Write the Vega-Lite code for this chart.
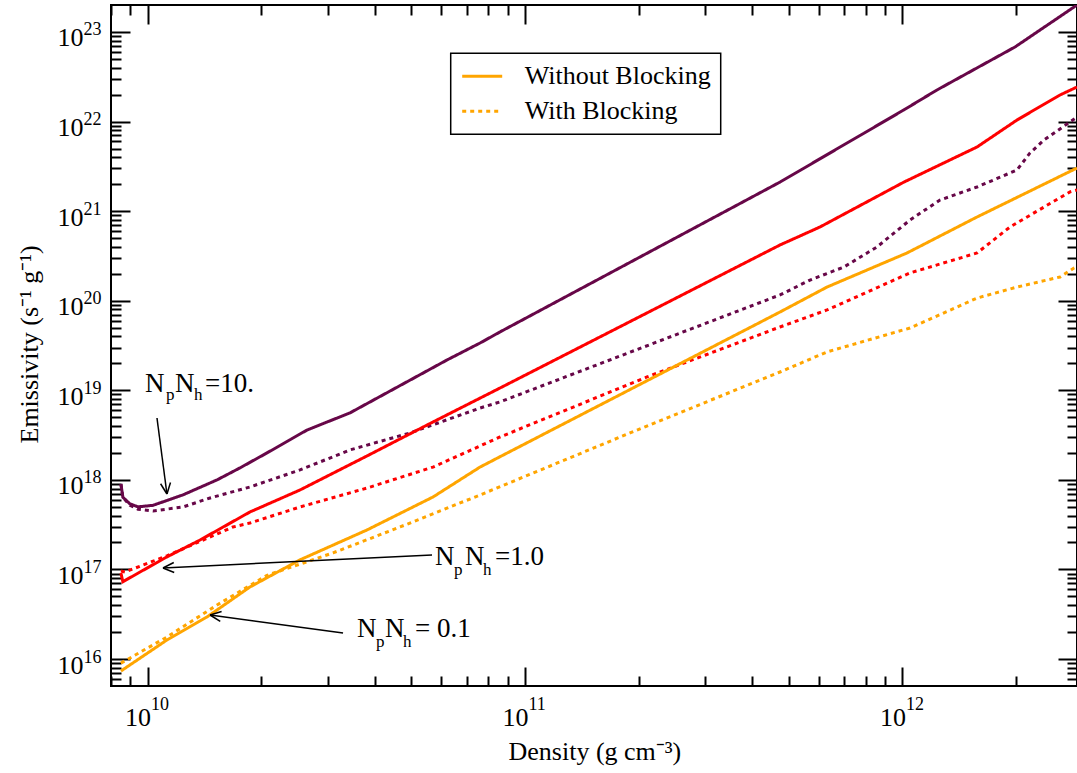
{
  "$schema": "https://vega.github.io/schema/vega-lite/v6.json",
  "width": 966,
  "height": 681,
  "autosize": {"type": "none"},
  "padding": {"left": 111, "top": 5, "right": 0, "bottom": 87},
  "background": "white",
  "config": {
    "view": {"stroke": "black", "strokeWidth": 2},
    "font": "Liberation Serif",
    "axis": {"grid": false, "domain": false, "labelColor": "black", "tickColor": "black", "labelFont": "Liberation Serif", "titleFont": "Liberation Serif", "titleFontWeight": "normal", "titleColor": "black", "labelFlush": false, "labelOverlap": false, "labelBound": false},
    "legend": {"strokeWidth": 1.5}
  },
  "datasets": {
    "curves": [
      {"g": "10.", "b": "Without Blocking", "d": 8.5e9, "e": 9.0e17},
      {"g": "10.", "b": "Without Blocking", "d": 8.6e9, "e": 6.4e17},
      {"g": "10.", "b": "Without Blocking", "d": 8.98e9, "e": 5.4e17},
      {"g": "10.", "b": "Without Blocking", "d": 9.43e9, "e": 5.0e17},
      {"g": "10.", "b": "Without Blocking", "d": 1.034e10, "e": 5.2e17},
      {"g": "10.", "b": "Without Blocking", "d": 1.241e10, "e": 6.8e17},
      {"g": "10.", "b": "Without Blocking", "d": 1.528e10, "e": 1.0e18},
      {"g": "10.", "b": "Without Blocking", "d": 1.757e10, "e": 1.36e18},
      {"g": "10.", "b": "Without Blocking", "d": 2.072e10, "e": 2.0e18},
      {"g": "10.", "b": "Without Blocking", "d": 2.645e10, "e": 3.6e18},
      {"g": "10.", "b": "Without Blocking", "d": 3.439e10, "e": 5.6e18},
      {"g": "10.", "b": "Without Blocking", "d": 6.214e10, "e": 2.18e19},
      {"g": "10.", "b": "Without Blocking", "d": 7.6e10, "e": 3.37e19},
      {"g": "10.", "b": "Without Blocking", "d": 8.584e10, "e": 4.48e19},
      {"g": "10.", "b": "Without Blocking", "d": 4.738e11, "e": 2.11e21},
      {"g": "10.", "b": "Without Blocking", "d": 1.009e12, "e": 1.35e22},
      {"g": "10.", "b": "Without Blocking", "d": 1.234e12, "e": 2.25e22},
      {"g": "10.", "b": "Without Blocking", "d": 1.987e12, "e": 6.8e22},
      {"g": "10.", "b": "Without Blocking", "d": 2.9e12, "e": 2.0e23},

      {"g": "10.", "b": "With Blocking", "d": 8.5e9, "e": 9.0e17},
      {"g": "10.", "b": "With Blocking", "d": 8.6e9, "e": 6.4e17},
      {"g": "10.", "b": "With Blocking", "d": 8.98e9, "e": 5.2e17},
      {"g": "10.", "b": "With Blocking", "d": 9.43e9, "e": 4.7e17},
      {"g": "10.", "b": "With Blocking", "d": 1.034e10, "e": 4.5e17},
      {"g": "10.", "b": "With Blocking", "d": 1.241e10, "e": 4.98e17},
      {"g": "10.", "b": "With Blocking", "d": 1.464e10, "e": 6.28e17},
      {"g": "10.", "b": "With Blocking", "d": 1.867e10, "e": 8.33e17},
      {"g": "10.", "b": "With Blocking", "d": 2.534e10, "e": 1.29e18},
      {"g": "10.", "b": "With Blocking", "d": 3.439e10, "e": 2.16e18},
      {"g": "10.", "b": "With Blocking", "d": 4.958e10, "e": 3.34e18},
      {"g": "10.", "b": "With Blocking", "d": 7.6e10, "e": 6.34e18},
      {"g": "10.", "b": "With Blocking", "d": 8.584e10, "e": 7.42e18},
      {"g": "10.", "b": "With Blocking", "d": 4.738e11, "e": 1.16e20},
      {"g": "10.", "b": "With Blocking", "d": 5.689e11, "e": 1.70e20},
      {"g": "10.", "b": "With Blocking", "d": 7.0e11, "e": 2.38e20},
      {"g": "10.", "b": "With Blocking", "d": 8.56e11, "e": 3.98e20},
      {"g": "10.", "b": "With Blocking", "d": 1.047e12, "e": 7.96e20},
      {"g": "10.", "b": "With Blocking", "d": 1.257e12, "e": 1.33e21},
      {"g": "10.", "b": "With Blocking", "d": 1.576e12, "e": 1.86e21},
      {"g": "10.", "b": "With Blocking", "d": 2.011e12, "e": 2.88e21},
      {"g": "10.", "b": "With Blocking", "d": 2.177e12, "e": 4.46e21},
      {"g": "10.", "b": "With Blocking", "d": 2.371e12, "e": 6.22e21},
      {"g": "10.", "b": "With Blocking", "d": 2.779e12, "e": 9.89e21},
      {"g": "10.", "b": "With Blocking", "d": 2.9e12, "e": 1.12e22},

      {"g": "1.0", "b": "Without Blocking", "d": 8.5e9, "e": 9.1e16},
      {"g": "1.0", "b": "Without Blocking", "d": 8.6e9, "e": 7.3e16},
      {"g": "1.0", "b": "Without Blocking", "d": 1.125e10, "e": 1.38e17},
      {"g": "1.0", "b": "Without Blocking", "d": 1.377e10, "e": 2.13e17},
      {"g": "1.0", "b": "Without Blocking", "d": 1.867e10, "e": 4.38e17},
      {"g": "1.0", "b": "Without Blocking", "d": 2.534e10, "e": 7.71e17},
      {"g": "1.0", "b": "Without Blocking", "d": 3.814e10, "e": 1.85e18},
      {"g": "1.0", "b": "Without Blocking", "d": 5.705e10, "e": 4.43e18},
      {"g": "1.0", "b": "Without Blocking", "d": 8.584e10, "e": 1.06e19},
      {"g": "1.0", "b": "Without Blocking", "d": 4.738e11, "e": 4.19e20},
      {"g": "1.0", "b": "Without Blocking", "d": 6.046e11, "e": 6.65e20},
      {"g": "1.0", "b": "Without Blocking", "d": 1.009e12, "e": 2.11e21},
      {"g": "1.0", "b": "Without Blocking", "d": 1.576e12, "e": 5.2e21},
      {"g": "1.0", "b": "Without Blocking", "d": 2.011e12, "e": 1.04e22},
      {"g": "1.0", "b": "Without Blocking", "d": 2.615e12, "e": 1.98e22},
      {"g": "1.0", "b": "Without Blocking", "d": 2.9e12, "e": 2.43e22},

      {"g": "1.0", "b": "With Blocking", "d": 8.5e9, "e": 9.6e16},
      {"g": "1.0", "b": "With Blocking", "d": 8.71e9, "e": 9.36e16},
      {"g": "1.0", "b": "With Blocking", "d": 1.125e10, "e": 1.42e17},
      {"g": "1.0", "b": "With Blocking", "d": 1.684e10, "e": 2.98e17},
      {"g": "1.0", "b": "With Blocking", "d": 1.867e10, "e": 3.30e17},
      {"g": "1.0", "b": "With Blocking", "d": 2.534e10, "e": 4.98e17},
      {"g": "1.0", "b": "With Blocking", "d": 3.814e10, "e": 8.11e17},
      {"g": "1.0", "b": "With Blocking", "d": 5.705e10, "e": 1.39e18},
      {"g": "1.0", "b": "With Blocking", "d": 8.584e10, "e": 3.01e18},
      {"g": "1.0", "b": "With Blocking", "d": 2.105e11, "e": 1.41e19},
      {"g": "1.0", "b": "With Blocking", "d": 4.738e11, "e": 5.09e19},
      {"g": "1.0", "b": "With Blocking", "d": 6.31e11, "e": 7.88e19},
      {"g": "1.0", "b": "With Blocking", "d": 1.047e12, "e": 2.04e20},
      {"g": "1.0", "b": "With Blocking", "d": 1.576e12, "e": 3.41e20},
      {"g": "1.0", "b": "With Blocking", "d": 1.927e12, "e": 6.65e20},
      {"g": "1.0", "b": "With Blocking", "d": 2.371e12, "e": 1.11e21},
      {"g": "1.0", "b": "With Blocking", "d": 2.779e12, "e": 1.64e21},
      {"g": "1.0", "b": "With Blocking", "d": 2.9e12, "e": 1.72e21},

      {"g": "0.1", "b": "Without Blocking", "d": 8.5e9, "e": 7.35e15},
      {"g": "0.1", "b": "Without Blocking", "d": 1.125e10, "e": 1.63e16},
      {"g": "0.1", "b": "Without Blocking", "d": 1.437e10, "e": 2.95e16},
      {"g": "0.1", "b": "Without Blocking", "d": 1.867e10, "e": 6.37e16},
      {"g": "0.1", "b": "Without Blocking", "d": 2.534e10, "e": 1.28e17},
      {"g": "0.1", "b": "Without Blocking", "d": 3.814e10, "e": 2.76e17},
      {"g": "0.1", "b": "Without Blocking", "d": 5.705e10, "e": 6.44e17},
      {"g": "0.1", "b": "Without Blocking", "d": 7.6e10, "e": 1.39e18},
      {"g": "0.1", "b": "Without Blocking", "d": 4.738e11, "e": 7.48e19},
      {"g": "0.1", "b": "Without Blocking", "d": 6.31e11, "e": 1.42e20},
      {"g": "0.1", "b": "Without Blocking", "d": 1.028e12, "e": 3.41e20},
      {"g": "0.1", "b": "Without Blocking", "d": 1.576e12, "e": 8.6e20},
      {"g": "0.1", "b": "Without Blocking", "d": 2.9e12, "e": 3.03e21},

      {"g": "0.1", "b": "With Blocking", "d": 8.5e9, "e": 9.0e15},
      {"g": "0.1", "b": "With Blocking", "d": 1.125e10, "e": 1.76e16},
      {"g": "0.1", "b": "With Blocking", "d": 1.528e10, "e": 4.01e16},
      {"g": "0.1", "b": "With Blocking", "d": 2.072e10, "e": 8.6e16},
      {"g": "0.1", "b": "With Blocking", "d": 3.099e10, "e": 1.53e17},
      {"g": "0.1", "b": "With Blocking", "d": 4.665e10, "e": 2.98e17},
      {"g": "0.1", "b": "With Blocking", "d": 7.6e10, "e": 6.78e17},
      {"g": "0.1", "b": "With Blocking", "d": 1.897e11, "e": 3.34e18},
      {"g": "0.1", "b": "With Blocking", "d": 4.738e11, "e": 1.60e19},
      {"g": "0.1", "b": "With Blocking", "d": 6.31e11, "e": 2.68e19},
      {"g": "0.1", "b": "With Blocking", "d": 1.047e12, "e": 4.96e19},
      {"g": "0.1", "b": "With Blocking", "d": 1.576e12, "e": 1.07e20},
      {"g": "0.1", "b": "With Blocking", "d": 2.011e12, "e": 1.42e20},
      {"g": "0.1", "b": "With Blocking", "d": 2.615e12, "e": 1.84e20},
      {"g": "0.1", "b": "With Blocking", "d": 2.847e12, "e": 2.32e20},
      {"g": "0.1", "b": "With Blocking", "d": 2.9e12, "e": 2.4e20}
    ],
    "arrows": [
      {"x": 1.059e10, "y": 4.907e18, "x2": 1.1255e10, "y2": 6.957e17},
      {"x": 1.1255e10, "y": 6.957e17, "x2": 1.0826e10, "y2": 9.053e17},
      {"x": 1.1255e10, "y": 6.957e17, "x2": 1.15e10, "y2": 9.361e17},
      {"x": 5.67e10, "y": 1.45e17, "x2": 1.0986e10, "y2": 1.0381e17},
      {"x": 1.0986e10, "y": 1.0381e17, "x2": 1.1731e10, "y2": 1.1966e17},
      {"x": 1.0986e10, "y": 1.0381e17, "x2": 1.1765e10, "y2": 9.256e16},
      {"x": 3.295e10, "y": 1.953e16, "x2": 1.464e10, "y2": 3.101e16},
      {"x": 1.464e10, "y": 3.101e16, "x2": 1.5707e10, "y2": 3.394e16},
      {"x": 1.464e10, "y": 3.101e16, "x2": 1.5579e10, "y2": 2.631e16}
    ],
    "bigtext": [
      {"x": 9.844e9, "y": 9.572e18, "t": "N"},
      {"x": 1.182e10, "y": 9.572e18, "t": "N"},
      {"x": 1.4195e10, "y": 9.572e18, "t": "=10."},
      {"x": 5.775e10, "y": 1.1213e17, "t": "N"},
      {"x": 6.934e10, "y": 1.1213e17, "t": "N"},
      {"x": 8.326e10, "y": 1.1213e17, "t": "=1.0"},
      {"x": 3.588e10, "y": 1.762e16, "t": "N"},
      {"x": 4.256e10, "y": 1.762e16, "t": "N"},
      {"x": 5.111e10, "y": 1.762e16, "t": "= 0.1"}
    ],
    "subtext": [
      {"x": 1.1188e10, "y": 7.792e18, "t": "p"},
      {"x": 1.3276e10, "y": 7.792e18, "t": "h"},
      {"x": 6.484e10, "y": 8.677e16, "t": "p"},
      {"x": 7.74e10, "y": 8.677e16, "t": "h"},
      {"x": 4.029e10, "y": 1.362e16, "t": "p"},
      {"x": 4.751e10, "y": 1.362e16, "t": "h"}
    ]
  },
  "layer": [
    {
      "data": {"name": "curves"},
      "mark": {"type": "line", "strokeWidth": 3, "clip": true},
      "encoding": {
        "x": {"field": "d", "type": "quantitative", "scale": {"type": "log", "domain": [8e9, 2.9e12], "nice": false},
          "axis": {"orient": "bottom", "values": [1e10, 1e11, 1e12], "labelExpr": "'10'", "ticks": false, "tickSize": 0, "labelAlign": "right", "labelBaseline": "alphabetic", "labelOffset": 3, "labelPadding": 39, "labelFontSize": 26,
            "title": "Density (g cm⁻³)", "titleFontSize": 26, "titleX": 397, "titleY": 73, "titleAlign": "left", "titleBaseline": "alphabetic", "titleAngle": 0}},
        "y": {"field": "e", "type": "quantitative", "scale": {"type": "log", "domain": [5e15, 2e23], "nice": false},
          "axis": {"orient": "left", "values": [1e16, 1e17, 1e18, 1e19, 1e20, 1e21, 1e22, 1e23], "labelExpr": "'10'", "ticks": false, "tickSize": 0, "labelAlign": "right", "labelBaseline": "alphabetic", "labelOffset": 14, "labelPadding": 28, "labelFontSize": 26,
            "title": "Emissivity (s⁻¹ g⁻¹)", "titleFontSize": 26, "titleX": -74, "titleY": 438, "titleAlign": "left", "titleBaseline": "alphabetic", "titleAngle": 270}},
        "color": {"field": "g", "type": "nominal", "scale": {"domain": ["0.1", "1.0", "10."], "range": ["#FFA500", "#FF0000", "#670748"]}, "legend": null},
        "strokeDash": {"field": "b", "type": "nominal", "scale": {"domain": ["Without Blocking", "With Blocking"], "range": [[1, 0], [4, 4]]},
          "legend": {"title": null, "orient": "none", "legendX": 339.7, "legendY": 48.3, "symbolType": "stroke", "symbolSize": 1600, "symbolStrokeWidth": 3, "symbolStrokeColor": "#FFA500", "labelFontSize": 26, "labelFont": "Liberation Serif", "labelColor": "black", "labelOffset": 21, "labelLimit": 0, "padding": 10, "clipHeight": 26, "rowPadding": 9, "strokeColor": "black", "fillColor": "white"}}
      }
    },
    {
      "data": {"name": "arrows"},
      "mark": {"type": "rule", "strokeWidth": 1.5, "color": "black"},
      "encoding": {
        "x": {"field": "x", "type": "quantitative", "scale": {"type": "log", "domain": [8e9, 2.9e12], "nice": false},
          "axis": {"orient": "bottom", "values": [1e10, 1e11, 1e12], "labelExpr": "round(log(datum.value)/LN10) + ''", "ticks": false, "tickSize": 0, "labelAlign": "left", "labelBaseline": "alphabetic", "labelOffset": 3, "labelPadding": 23, "labelFontSize": 18, "title": null}},
        "y": {"field": "y", "type": "quantitative", "scale": {"type": "log", "domain": [5e15, 2e23], "nice": false},
          "axis": {"orient": "left", "values": [1e16, 1e17, 1e18, 1e19, 1e20, 1e21, 1e22, 1e23], "labelExpr": "round(log(datum.value)/LN10) + ''", "ticks": false, "tickSize": 0, "labelAlign": "left", "labelBaseline": "alphabetic", "labelOffset": 3, "labelPadding": 28, "labelFontSize": 18, "title": null}},
        "x2": {"field": "x2"},
        "y2": {"field": "y2"}
      }
    },
    {
      "data": {"name": "bigtext"},
      "mark": {"type": "text", "fontSize": 27, "font": "Liberation Serif", "align": "left", "baseline": "alphabetic", "color": "black"},
      "encoding": {
        "x": {"field": "x", "type": "quantitative", "scale": {"type": "log", "domain": [8e9, 2.9e12], "nice": false},
          "axis": {"orient": "top", "values": [8e9, 9e9, 1e10, 2e10, 3e10, 4e10, 5e10, 6e10, 7e10, 8e10, 9e10, 1e11, 2e11, 3e11, 4e11, 5e11, 6e11, 7e11, 8e11, 9e11, 1e12, 2e12], "labels": false, "tickSize": {"condition": {"test": "abs(log(datum.value)/LN10 - round(log(datum.value)/LN10)) < 0.001", "value": -19}, "value": -10}, "tickWidth": 2, "title": null}},
        "y": {"field": "y", "type": "quantitative", "scale": {"type": "log", "domain": [5e15, 2e23], "nice": false},
          "axis": {"orient": "right", "values": [6e15, 7e15, 8e15, 9e15, 1e16, 2e16, 3e16, 4e16, 5e16, 6e16, 7e16, 8e16, 9e16, 1e17, 2e17, 3e17, 4e17, 5e17, 6e17, 7e17, 8e17, 9e17, 1e18, 2e18, 3e18, 4e18, 5e18, 6e18, 7e18, 8e18, 9e18, 1e19, 2e19, 3e19, 4e19, 5e19, 6e19, 7e19, 8e19, 9e19, 1e20, 2e20, 3e20, 4e20, 5e20, 6e20, 7e20, 8e20, 9e20, 1e21, 2e21, 3e21, 4e21, 5e21, 6e21, 7e21, 8e21, 9e21, 1e22, 2e22, 3e22, 4e22, 5e22, 6e22, 7e22, 8e22, 9e22, 1e23], "labels": false, "tickSize": {"condition": {"test": "abs(log(datum.value)/LN10 - round(log(datum.value)/LN10)) < 0.001", "value": -19}, "value": -10}, "tickWidth": 2, "title": null}},
        "text": {"field": "t", "type": "nominal"}
      }
    },
    {
      "data": {"name": "subtext"},
      "mark": {"type": "text", "fontSize": 17, "font": "Liberation Serif", "align": "left", "baseline": "alphabetic", "color": "black"},
      "encoding": {
        "x": {"field": "x", "type": "quantitative", "scale": {"type": "log", "domain": [8e9, 2.9e12], "nice": false},
          "axis": {"orient": "bottom", "values": [8e9, 9e9, 1e10, 2e10, 3e10, 4e10, 5e10, 6e10, 7e10, 8e10, 9e10, 1e11, 2e11, 3e11, 4e11, 5e11, 6e11, 7e11, 8e11, 9e11, 1e12, 2e12], "labels": false, "tickSize": {"condition": {"test": "abs(log(datum.value)/LN10 - round(log(datum.value)/LN10)) < 0.001", "value": -19}, "value": -10}, "tickWidth": 2, "title": null}},
        "y": {"field": "y", "type": "quantitative", "scale": {"type": "log", "domain": [5e15, 2e23], "nice": false},
          "axis": {"orient": "left", "values": [6e15, 7e15, 8e15, 9e15, 1e16, 2e16, 3e16, 4e16, 5e16, 6e16, 7e16, 8e16, 9e16, 1e17, 2e17, 3e17, 4e17, 5e17, 6e17, 7e17, 8e17, 9e17, 1e18, 2e18, 3e18, 4e18, 5e18, 6e18, 7e18, 8e18, 9e18, 1e19, 2e19, 3e19, 4e19, 5e19, 6e19, 7e19, 8e19, 9e19, 1e20, 2e20, 3e20, 4e20, 5e20, 6e20, 7e20, 8e20, 9e20, 1e21, 2e21, 3e21, 4e21, 5e21, 6e21, 7e21, 8e21, 9e21, 1e22, 2e22, 3e22, 4e22, 5e22, 6e22, 7e22, 8e22, 9e22, 1e23], "labels": false, "tickSize": {"condition": {"test": "abs(log(datum.value)/LN10 - round(log(datum.value)/LN10)) < 0.001", "value": -19}, "value": -10}, "tickWidth": 2, "title": null}},
        "text": {"field": "t", "type": "nominal"}
      }
    }
  ],
  "resolve": {"axis": {"x": "independent", "y": "independent"}}
}
